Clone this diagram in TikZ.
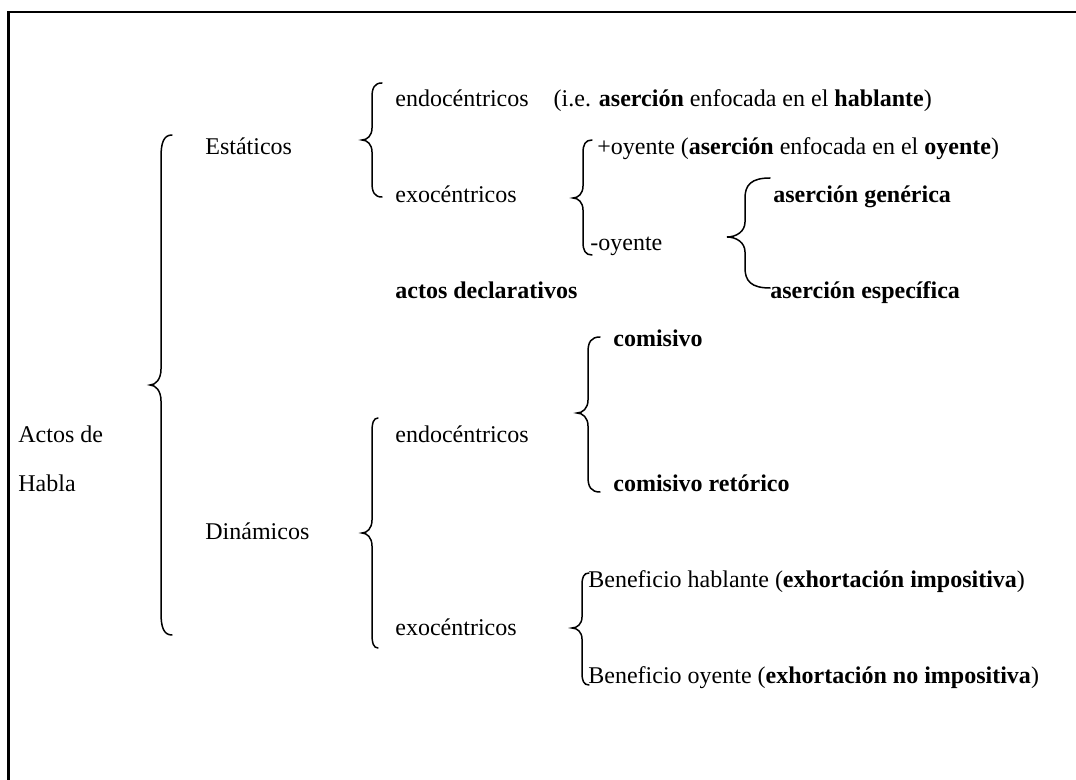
\documentclass[tikz,border=0pt]{standalone}
\usepackage{fontspec}
\setmainfont{Liberation Serif}
% #1 x of ends, #2 x of spine, #3 x of tip, #4 y top, #5 y tip, #6 y bottom, #7 end radius, #8 tip radius
\newcommand{\curlybr}[8]{%
  \draw[bracestyle] (#1,#4) .. controls (#2+0.25*#1-0.25*#2,#4) and (#2,#4+0.35*#7) .. (#2,#4+#7)
    -- (#2,#5-#8)
    .. controls (#2,#5-0.35*#8) and (#3+0.5*#2-0.5*#3,#5) .. (#3,#5)
    .. controls (#3+0.5*#2-0.5*#3,#5) and (#2,#5+0.35*#8) .. (#2,#5+#8)
    -- (#2,#6-#7)
    .. controls (#2,#6-0.35*#7) and (#2+0.25*#1-0.25*#2,#6) .. (#1,#6);}
\begin{document}
\begin{tikzpicture}[x=0.5pt,y=-0.5pt,
  lbl/.style={anchor=base west,inner sep=0pt,font=\fontsize{12}{14}\selectfont},
  bracestyle/.style={line width=0.75pt,line cap=round},
  frame/.style={line width=1.25pt}]
\useasboundingbox (0,0) rectangle (1076,780);
\fill[white] (0,0) rectangle (1076,780);
\draw[frame] (8.5,780) -- (8.5,12) -- (1076,12);
% labels
\node[lbl] (actos) at (18,443) {Actos de};
\node[lbl] (habla) at (18,491) {Habla};
\node[lbl] (estat) at (205,155) {Estáticos};
\node[lbl] (dinam) at (205,539) {Dinámicos};
\node[lbl] (endoS) at (395,107) {endocéntricos\hspace{12.5pt}(i.e. \textbf{aserción} enfocada en el \textbf{hablante})};
\node[lbl] (exoS) at (395,203) {exocéntricos};
\node[lbl] (masoy) at (597,155) {+oyente (\textbf{aserción} enfocada en el \textbf{oyente})};
\node[lbl] (menoy) at (590,251) {-oyente};
\node[lbl] (gen) at (773,203) {\textbf{aserción genérica}};
\node[lbl] (esp) at (770,299) {\textbf{aserción específica}};
\node[lbl] (decl) at (395,299) {\textbf{actos declarativos}};
\node[lbl] (com) at (613,347) {\textbf{comisivo}};
\node[lbl] (comr) at (613,491) {\textbf{comisivo retórico}};
\node[lbl] (endoD) at (395,443) {endocéntricos};
\node[lbl] (exoD) at (395,635) {exocéntricos};
\node[lbl] (benh) at (588,587) {Beneficio hablante (\textbf{exhortación impositiva})};
\node[lbl] (beno) at (588,683) {Beneficio oyente (\textbf{exhortación no impositiva})};
% braces
\curlybr{172}{161}{150}{135}{385}{635}{22}{16}
\curlybr{382}{372}{362}{83}{140}{197}{14}{12}
\curlybr{592}{583}{573}{140}{198}{255}{13}{12}
\curlybr{770}{745}{727}{178}{237}{288}{20}{15}
\curlybr{600}{588}{577}{337}{413}{492}{15}{13}
\curlybr{378}{372}{362}{418}{533}{648}{14}{13}
\curlybr{589}{582}{572}{573}{628}{685}{12}{11}
\end{tikzpicture}
\end{document}
